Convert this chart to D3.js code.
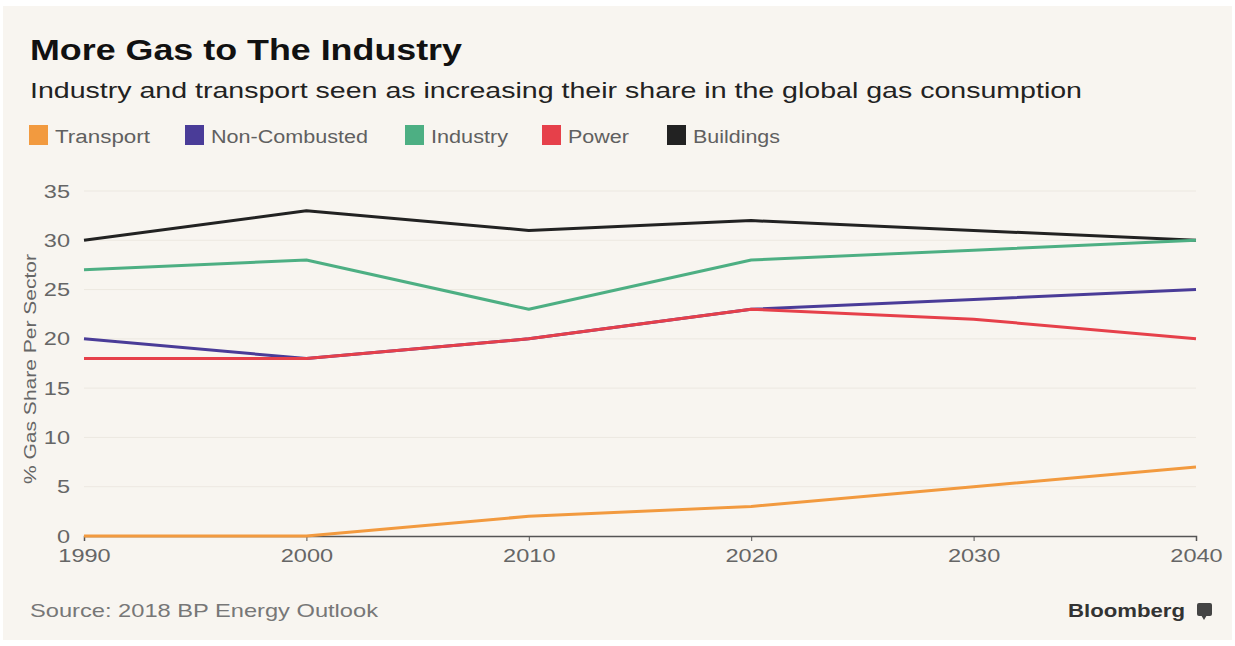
<!DOCTYPE html>
<html>
<head>
<meta charset="utf-8">
<script src="https://cdn.jsdelivr.net/npm/d3@7"></script>
<style>
  body { margin: 0; background: #fff; }
  svg text { font-family: "Liberation Sans", Arial, sans-serif; }
</style>
</head>
<body>
<svg id="chart" width="1235" height="646"></svg>
<script>
"use strict";

// Data
var years = [1990, 2000, 2010, 2020, 2030, 2040];
var transport = [0, 0, 2, 3, 5, 7];
var nonCombusted = [20, 18, 20, 23, 24, 25];
var industry = [27, 28, 23, 28, 29, 30];
var power = [18, 18, 20, 23, 22, 20];
var buildings = [30, 33, 31, 32, 31, 30];
var yTicks = [0, 5, 10, 15, 20, 25, 30, 35];

var seriesNames = ["Transport", "Non-Combusted", "Industry", "Power", "Buildings"];
var seriesColors = ["#f29a3f", "#4a3c98", "#4daf83", "#e6404a", "#222222"];
var seriesValues = [transport, nonCombusted, industry, power, buildings];

var width = 1235, height = 646;
var margin = {top: 191, right: 39, bottom: 110, left: 84};

// the source picture is a bit wider than the fonts we have
var stretch = 1.24;

var svg = d3.select('#chart');

// card background
svg.append('rect')
  .attr('x', 3).attr('y', 6)
  .attr('width', width - 6).attr('height', height - 12)
  .attr('fill', '#f8f5f0');

// Title + subtitle
svg.append('text')
  .attr('x', 30).attr('y', 60)
  .attr('font-size', 30)
  .attr('font-weight', 'bold')
  .attr('fill', '#111')
  .attr('textLength', 432)
  .attr('lengthAdjust', 'spacingAndGlyphs')
  .text('More Gas to The Industry');

svg.append('text')
  .attr('x', 30).attr('y', 98)
  .attr('font-size', 22)
  .attr('fill', '#222')
  .attr('textLength', 1052)
  .attr('lengthAdjust', 'spacingAndGlyphs')
  .text('Industry and transport seen as increasing their share in the global gas consumption');

// Legend
var legendX = [29, 185, 405, 542, 667];
var legendW = [95, 157, 77, 61, 87];
var legend = svg.append('g');
seriesNames.forEach(function (name, i) {
  legend.append('rect')
    .attr('x', legendX[i]).attr('y', 125)
    .attr('width', 19).attr('height', 20)
    .attr('fill', seriesColors[i]);
  legend.append('text')
    .attr('x', legendX[i] + 26).attr('y', 143)
    .attr('font-size', 18)
    .attr('fill', '#606060')
    .attr('textLength', legendW[i])
    .attr('lengthAdjust', 'spacingAndGlyphs')
    .text(name);
});

// Scales
var x = d3.scaleLinear()
  .domain([1990, 2040])
  .range([margin.left, width - margin.right]);

var y = d3.scaleLinear()
  .domain([0, 35])
  .range([height - margin.bottom, margin.top]);

// grid lines
svg.append('g')
  .selectAll('line')
  .data(yTicks.filter(d => d > 0))
  .enter()
  .append('line')
    .attr('x1', x(1990)).attr('x2', x(2040))
    .attr('y1', d => y(d)).attr('y2', d => y(d))
    .attr('stroke', '#ece8e1')
    .attr('stroke-width', 1);

// y axis labels
var yAxis = svg.append('g')
  .attr('transform', `translate(${margin.left - 14}, 0)`)
  .call(d3.axisLeft(y).tickValues(yTicks).tickSize(0).tickPadding(0));
yAxis.select('.domain').remove();
yAxis.selectAll('text')
  .attr('font-size', 19)
  .attr('fill', '#666')
  .attr('transform', `scale(${stretch},1)`)
  .style('font-family', '"Liberation Sans", Arial, sans-serif');

// y axis title
svg.append('text')
  .attr('transform', `translate(36, 369) rotate(-90)`)
  .attr('text-anchor', 'middle')
  .attr('font-size', 17)
  .attr('fill', '#666')
  .attr('textLength', 230)
  .attr('lengthAdjust', 'spacingAndGlyphs')
  .text('% Gas Share Per Sector');

// x axis
var xAxis = svg.append('g')
  .attr('transform', `translate(0, ${y(0)})`)
  .call(d3.axisBottom(x).tickValues(years).tickFormat(d3.format('d')).tickSize(5).tickPadding(8));
xAxis.select('.domain')
  .attr('stroke', '#555')
  .attr('stroke-width', 1.5);
xAxis.selectAll('.tick line').attr('stroke', '#555');
xAxis.selectAll('text')
  .attr('font-size', 19)
  .attr('fill', '#666')
  .attr('transform', `scale(${stretch},1)`)
  .style('font-family', '"Liberation Sans", Arial, sans-serif');

// Lines (drawn back to front: buildings first, transport last)
var line = d3.line()
  .x((d, i) => x(years[i]))
  .y(d => y(d));

var order = [4, 2, 1, 3, 0];
order.forEach(function (k) {
  svg.append('path')
    .datum(seriesValues[k])
    .attr('fill', 'none')
    .attr('stroke', seriesColors[k])
    .attr('stroke-width', 3)
    .attr('stroke-linejoin', 'round')
    .attr('d', line);
});

// Footer
svg.append('text')
  .attr('x', 30).attr('y', 617)
  .attr('font-size', 19)
  .attr('fill', '#777')
  .attr('textLength', 348)
  .attr('lengthAdjust', 'spacingAndGlyphs')
  .text('Source: 2018 BP Energy Outlook');

svg.append('text')
  .attr('x', 1068).attr('y', 617)
  .attr('font-size', 19)
  .attr('font-weight', 'bold')
  .attr('fill', '#333')
  .attr('textLength', 117)
  .attr('lengthAdjust', 'spacingAndGlyphs')
  .text('Bloomberg');

svg.append('rect')
  .attr('x', 1197).attr('y', 603)
  .attr('width', 15).attr('height', 13)
  .attr('rx', 2)
  .attr('fill', '#444');
svg.append('path')
  .attr('d', 'M1201,615 L1204,620 L1207,615 Z')
  .attr('fill', '#444');
</script>
</body>
</html>
